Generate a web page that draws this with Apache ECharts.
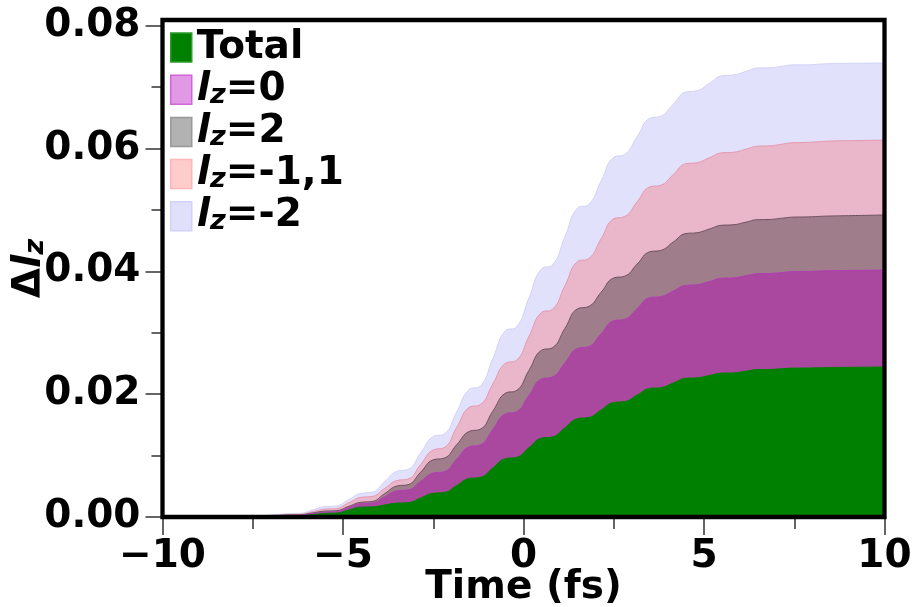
<!DOCTYPE html>
<html>
<head>
<meta charset="utf-8">
<script src="https://cdn.jsdelivr.net/npm/echarts@6/dist/echarts.min.js"></script>
<style>html,body{margin:0;padding:0;background:#fff}#c{width:914px;height:607px}</style>
</head>
<body>
<div id="c"></div>
<script>
// Time grid (fs)
const timeFs = [-10, -9, -8, -7.5, -7.2, -6.85, -6.5, -6.2, -5.85, -5.5, -5.2, -4.85, -4.5, -4.2, -3.85, -3.5, -3.2, -2.85, -2.5, -2.2, -1.85, -1.5, -1.2, -0.85, -0.5, -0.2, 0.15, 0.5, 0.8, 1.15, 1.5, 1.8, 2.15, 2.5, 2.8, 3.15, 3.5, 3.8, 4.15, 4.5, 4.8, 5.15, 5.5, 5.8, 6.15, 6.5, 6.8, 7.15, 7.5, 7.8, 8.15, 8.5, 9, 10];

// Cumulative band tops (each band drawn from 0)
const totalTop = [0, 0, 0.00001, 0.00003, 0.00003, 0.0001, 0.00016, 0.00017, 0.00038, 0.00059, 0.00063, 0.00112, 0.0016, 0.00165, 0.00196, 0.00226, 0.00233, 0.0031, 0.00386, 0.00398, 0.00513, 0.00628, 0.00645, 0.00798, 0.0095, 0.0097, 0.01127, 0.01284, 0.01304, 0.01453, 0.01601, 0.01619, 0.01742, 0.01864, 0.01879, 0.01986, 0.02093, 0.02105, 0.02182, 0.02258, 0.02265, 0.02304, 0.02342, 0.02346, 0.02373, 0.024, 0.02402, 0.02413, 0.02424, 0.02425, 0.02429, 0.02433, 0.02436, 0.02442];
const lz0Top = [0, 0, 0.00002, 0.00007, 0.00008, 0.00016, 0.00024, 0.00026, 0.00053, 0.00079, 0.00085, 0.00151, 0.00216, 0.00226, 0.00326, 0.00425, 0.0044, 0.00578, 0.00715, 0.00737, 0.0094, 0.01143, 0.01172, 0.01425, 0.01677, 0.0171, 0.01978, 0.02246, 0.02278, 0.02511, 0.02744, 0.02772, 0.02983, 0.03194, 0.03218, 0.03394, 0.0357, 0.03587, 0.03679, 0.0377, 0.0378, 0.03833, 0.03887, 0.03892, 0.03927, 0.03961, 0.03964, 0.0398, 0.03995, 0.03996, 0.04003, 0.04009, 0.04013, 0.0402];
const lz2Top = [0, 0, 0.00003, 0.0001, 0.00012, 0.00022, 0.00032, 0.00035, 0.00066, 0.00096, 0.00102, 0.00171, 0.0024, 0.00252, 0.00379, 0.00505, 0.00526, 0.00729, 0.00931, 0.00958, 0.01176, 0.01394, 0.01427, 0.01722, 0.02016, 0.02056, 0.02385, 0.02714, 0.02755, 0.03073, 0.0339, 0.03425, 0.03658, 0.03891, 0.03919, 0.04118, 0.04317, 0.04339, 0.04477, 0.04614, 0.04627, 0.04688, 0.04749, 0.04756, 0.04798, 0.0484, 0.04843, 0.04863, 0.04882, 0.04884, 0.04892, 0.049, 0.04905, 0.04916];
const lzm11Top = [0, 0, 0.00004, 0.00015, 0.00017, 0.00029, 0.0004, 0.00044, 0.00086, 0.00127, 0.00136, 0.00228, 0.0032, 0.00334, 0.00464, 0.00594, 0.00617, 0.00855, 0.01092, 0.01128, 0.01457, 0.01786, 0.01828, 0.02165, 0.02502, 0.02548, 0.02938, 0.03328, 0.03378, 0.03768, 0.04158, 0.04204, 0.04529, 0.04854, 0.0489, 0.05132, 0.05373, 0.05399, 0.05575, 0.05751, 0.05767, 0.05848, 0.05928, 0.05936, 0.05986, 0.06036, 0.06041, 0.06068, 0.06094, 0.06097, 0.06108, 0.0612, 0.06125, 0.06136];
const lzm2Top = [0, 0, 0.00005, 0.00022, 0.00025, 0.0004, 0.00056, 0.0006, 0.00114, 0.00168, 0.00178, 0.00281, 0.00384, 0.00402, 0.00574, 0.00746, 0.00774, 0.01042, 0.0131, 0.0135, 0.01714, 0.02077, 0.02129, 0.0258, 0.03031, 0.0309, 0.03565, 0.0404, 0.041, 0.04565, 0.0503, 0.05085, 0.0547, 0.05855, 0.05899, 0.06195, 0.06491, 0.06523, 0.0672, 0.06917, 0.06938, 0.0706, 0.07182, 0.07194, 0.0725, 0.0731, 0.07312, 0.07335, 0.0736, 0.0736, 0.0737, 0.0738, 0.07385, 0.0739];

const xMajorTicks = [-10, -5, 0, 5, 10];
const yMajorTicks = [0, 0.02, 0.04, 0.06, 0.08];
const yMinorTicks = [0.01, 0.03, 0.05, 0.07];

const FONT = 'DejaVu Sans';
const pairs = arr => timeFs.map((t, i) => [t, arr[i]]);

const bands = [
  {name: 'lz=-2',   data: lzm2Top,  fill: '#e1e1fc', edge: '#d2d2f6', icon: '#e0e0fd', iconBorder: '#d2d2f8'},
  {name: 'lz=-1,1', data: lzm11Top, fill: '#eab6c9', edge: '#e598ad', icon: '#ffcccc', iconBorder: '#ffb6b6'},
  {name: 'lz=2',    data: lz2Top,   fill: '#a07d8a', edge: '#6f5261', icon: '#b2b2b2', iconBorder: '#999999'},
  {name: 'lz=0',    data: lz0Top,   fill: '#aa479f', edge: '#b23db6', icon: '#e199e6', iconBorder: '#d066d8'},
  {name: 'Total',   data: totalTop, fill: '#008000', edge: '#008000', icon: '#008000', iconBorder: '#2c9a2c'}
];

const txt = {fontFamily: FONT, fontWeight: 'bold', color: '#000'};
const rich = {
  b: Object.assign({fontSize: 39, lineHeight: 39, verticalAlign: 'bottom'}, txt),
  l: Object.assign({fontSize: 39, lineHeight: 39, verticalAlign: 'bottom', fontStyle: 'italic'}, txt),
  z: Object.assign({fontSize: 27, lineHeight: 18, verticalAlign: 'bottom', fontStyle: 'italic', padding: [27, 0, 0, 0]}, txt)
};

const chart = echarts.init(document.getElementById('c'), null, {renderer: 'canvas'});
chart.setOption({
  animation: false,
  backgroundColor: '#fff',
  grid: {left: 162.5, right: 29.5, top: 20, bottom: 90, containLabel: false, outerBoundsMode: 'none',
    show: true, borderColor: '#000', borderWidth: 4.3, backgroundColor: 'transparent', z: 10},
  legend: {
    orient: 'vertical', left: 170, top: 13, padding: 0, itemGap: -11.8,
    itemWidth: 21, itemHeight: 29, icon: 'rect',
    data: ['Total', 'lz=0', 'lz=2', 'lz=-1,1', 'lz=-2'].map(n => {
      const b = bands.find(x => x.name === n);
      return {name: n, itemStyle: {color: b.icon, borderColor: b.iconBorder, borderWidth: 1.5}};
    }),
    formatter: n => n === 'Total' ? '{b|Total}{z| }' : '{l|l}{z|z}{b|' + n.slice(2) + '}',
    textStyle: {rich: rich}
  },
  xAxis: {
    type: 'value', min: -10, max: 10, interval: 5,
    name: 'Time (fs)', nameLocation: 'middle', nameGap: 51, nameMoveOverlap: false,
    nameTextStyle: Object.assign({fontSize: 39, lineHeight: 39}, txt),
    axisLine: {show: false, onZero: false},
    axisTick: {show: true, length: 18, lineStyle: {color: '#333', width: 1.5}},
    minorTick: {show: true, splitNumber: 2, length: 12, lineStyle: {color: '#333', width: 1.5}},
    splitLine: {show: false},
    axisLabel: Object.assign({fontSize: 39, lineHeight: 39, margin: 20,
      formatter: v => (v < 0 ? '\u2212' + Math.abs(v) : String(v))}, txt)
  },
  yAxis: [{
    type: 'value', min: 0, max: 0.0809, position: 'left',
    name: '{b|\u0394}{l|l}{z|z}', nameLocation: 'middle', nameGap: 113, nameRotate: 90, nameMoveOverlap: false,
    nameTextStyle: {rich: rich},
    axisLine: {show: false, onZero: false},
    axisTick: {show: true, length: 17, customValues: yMajorTicks, lineStyle: {color: '#333', width: 1.5}},
    splitLine: {show: false},
    axisLabel: Object.assign({fontSize: 39, lineHeight: 39, margin: 22, padding: [22, 0, 0, 0],
      customValues: yMajorTicks, formatter: v => v.toFixed(2)}, txt)
  }, {
    type: 'value', min: 0, max: 0.0809, position: 'left',
    axisLine: {show: false, onZero: false},
    axisTick: {show: true, length: 11, customValues: yMinorTicks, lineStyle: {color: '#333', width: 1.5}},
    axisLabel: {show: false},
    splitLine: {show: false}
  }],
  series: bands.map(b => ({
    name: b.name, type: 'line', yAxisIndex: 0,
    data: pairs(b.data),
    smooth: 0.5, symbol: 'none', showSymbol: false,
    lineStyle: {color: b.edge, width: 1},
    itemStyle: {color: b.icon},
    areaStyle: {color: b.fill, opacity: 1},
    emphasis: {disabled: true}
  }))
});
</script>
</body>
</html>
